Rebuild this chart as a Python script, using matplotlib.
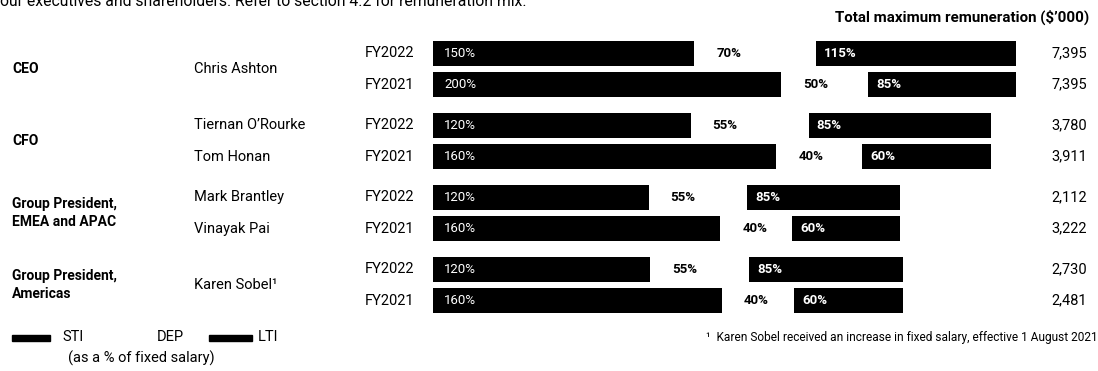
import matplotlib
matplotlib.use("Agg")
import matplotlib.pyplot as plt
from matplotlib.patches import Rectangle

plt.rcParams['font.family'] = ['Roboto', 'DejaVu Sans']

# dati
roles = ['CEO', 'CFO', 'Group President,\nEMEA and APAC', 'Group President,\nAmericas']
names = ['Chris Ashton', 'Tiernan O’Rourke', 'Tom Honan', 'Mark Brantley', 'Vinayak Pai', 'Karen Sobel¹']
name_rows = [(0, 1), (2,), (3,), (4,), (5,), (6, 7)]
years = ['FY2022', 'FY2021'] * 4
sti = [150, 200, 120, 160, 120, 160, 120, 160]
dep = [70, 50, 55, 40, 55, 40, 55, 40]
lti = [115, 85, 85, 60, 85, 60, 85, 60]
totals = ['7,395', '7,395', '3,780', '3,911', '2,112', '3,222', '2,730', '2,481']

# layout (pixel della figura)
W, H = 1098, 371
row_span = [335, 335, 320.6, 320.6, 268.3, 268.3, 269.8, 269.8]   # lunghezza barra in unita' asse
group_of_row = [0, 0, 1, 1, 2, 2, 3, 3]
row_y = [53.3 + 72 * g + 31.4 * (i % 2) for i, g in enumerate(group_of_row)]

fig = plt.figure(figsize=(W / 100, H / 100), dpi=100)


def fig_text(x, y, s, **kw):
    kw.setdefault('va', 'center')
    return fig.text(x / W, 1 - y / H, s, **kw)


ax = fig.add_axes([433 / W, 0, 583 / W, 1])
ax.set_xlim(0, 335)
ax.set_ylim(H, 0)
ax.axis('off')

for i in range(len(sti)):
    scale = row_span[i] / (sti[i] + dep[i] + lti[i])
    y = row_y[i]
    ax.barh(y, sti[i] * scale, height=24.5, left=0, color='black')
    ax.barh(y, lti[i] * scale, height=24.5, left=(sti[i] + dep[i]) * scale, color='black')
    ax.annotate(f'{sti[i]}%', xy=(0, y), xytext=(8, 0), textcoords='offset points',
                va='center', ha='left', color='white', fontsize=9.5)
    ax.annotate(f'{dep[i]}%', xy=(sti[i] * scale, y), xytext=(16, 0), textcoords='offset points',
                va='center', ha='left', color='black', fontsize=9.5, fontweight='bold')
    ax.annotate(f'{lti[i]}%', xy=((sti[i] + dep[i]) * scale, y), xytext=(6, 0),
                textcoords='offset points', va='center', ha='left', color='white',
                fontsize=9.5, fontweight='bold')
    fig_text(365, y, years[i], ha='left', fontsize=10.5)
    fig_text(1087, y, totals[i], ha='right', fontsize=10.5)

# etichette a sinistra
for g, role in enumerate(roles):
    ys = [row_y[i] for i in range(len(row_y)) if group_of_row[i] == g]
    fig_text(12, sum(ys) / len(ys), role, ha='left', fontsize=10, fontweight='bold',
             linespacing=1.45)

for name, rows in zip(names, name_rows):
    ys = [row_y[r] for r in rows]
    fig_text(194, sum(ys) / len(ys), name, ha='left', fontsize=10.5)

# intestazioni
fig_text(0, 5.5, 'our executives and shareholders. Refer to section 4.2 for remuneration mix.',
         ha='left', va='baseline', fontsize=11.3)
fig_text(1089, 17.5, 'Total maximum remuneration ($’000)', ha='right', fontsize=10.9,
         fontweight='bold')

# legenda
for x0, x1 in [(12, 50), (209, 252)]:
    fig.add_artist(Rectangle((x0 / W, 1 - 341 / H), (x1 - x0) / W, 6 / H,
                             transform=fig.transFigure, color='black'))
fig_text(62, 337, 'STI', ha='left', fontsize=10.5)
fig_text(157, 337, 'DEP', ha='left', fontsize=10.5)
fig_text(258, 337, 'LTI', ha='left', fontsize=10.5)
fig_text(68, 358, '(as a % of fixed salary)', ha='left', fontsize=10.5)

fig_text(706, 337, '¹  Karen Sobel received an increase in fixed salary, effective 1 August 2021',
         ha='left', fontsize=8.6)

fig.savefig('out.png', dpi=100)
